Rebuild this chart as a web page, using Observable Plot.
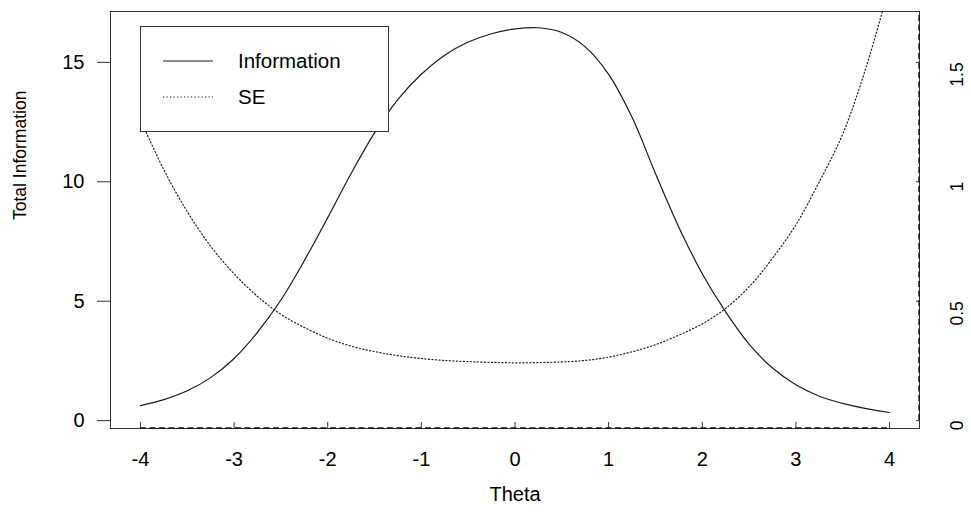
<!DOCTYPE html>
<html><head><meta charset="utf-8">
<script src="https://cdn.jsdelivr.net/npm/d3@7"></script>
<script src="https://cdn.jsdelivr.net/npm/@observablehq/plot@0.6"></script>
<style>html,body{margin:0;padding:0;background:#fff;}</style>
</head><body><div id="chart"></div>
<script>
// ---- data ----
const theta = [-4,-3.75,-3.5,-3.25,-3,-2.75,-2.5,-2.25,-2,-1.75,-1.5,-1.25,-1,-0.75,-0.5,-0.25,0,0.25,0.5,0.75,1,1.25,1.5,1.75,2,2.25,2.5,2.75,3,3.25,3.5,3.75,4];
const information = [0.63,0.88,1.25,1.8,2.6,3.7,5.05,6.7,8.5,10.35,12.05,13.45,14.5,15.3,15.85,16.2,16.4,16.45,16.25,15.65,14.5,12.7,10.35,8.1,6.15,4.55,3.2,2.2,1.5,1.02,0.72,0.5,0.34];
const se = [1.26,1.05,0.875,0.73,0.615,0.52,0.445,0.39,0.345,0.312,0.289,0.272,0.26,0.252,0.247,0.244,0.242,0.243,0.246,0.252,0.266,0.288,0.318,0.358,0.405,0.47,0.56,0.68,0.82,1.0,1.2,1.48,1.82];
const xTicks = [-4,-3,-2,-1,0,1,2,3,4];
const infoTicks = [0,5,10,15];
const seTicks = [0,0.5,1,1.5];
const seRatio = 10; // right axis = left axis / 10
const legendLabels = ["Information","SE"];
const xLabel = "Theta";
const yLabel = "Total Information";

const infoData = theta.map((t,i)=>({theta:t, value:information[i]}));
const seData = theta.map((t,i)=>({theta:t, value:se[i]}));

const W=971, H=529, mL=110, mR=52, mT=11, mB=101;
const FONT = "'Liberation Sans', Arial, Helvetica, sans-serif";

const plot = Plot.plot({
  width: W, height: H,
  marginLeft: mL, marginRight: mR, marginTop: mT, marginBottom: mB,
  style: {fontFamily: FONT, fontSize: "20px", color: "#000", background: "#fff", overflow: "visible"},
  x: {domain: [-4.32, 4.32]},
  y: {domain: [-0.33, 17.13]},
  marks: [
    Plot.frame({stroke: "#333", strokeWidth: 1}),
    Plot.line(infoData, {x: "theta", y: "value", curve: "catmull-rom", stroke: "#1a1a1a", strokeWidth: 1.2}),
    Plot.line(seData, {x: "theta", y: d => d.value * seRatio, curve: "catmull-rom", stroke: "#222", strokeWidth: 1.2, strokeDasharray: "1.2,2.3", clip: true}),
    Plot.axisX({ticks: xTicks, tickSize: -6, tickPadding: 29, label: null, tickFormat: d => String(d), stroke: "#333"}),
    Plot.axisY({anchor: "left", ticks: infoTicks, tickSize: 13, tickPadding: 13, label: null, tickFormat: d => String(d), stroke: "#333"}),
    Plot.axisY({anchor: "right", ticks: seTicks.map(v => v * seRatio), tickSize: -4, tickFormat: () => "", label: null, stroke: "#333"}),
    Plot.text(seTicks, {y: d => d * seRatio, frameAnchor: "right", dx: 38, rotate: -90, text: d => String(d), fontSize: 17.5, fill: "#000"}),
    Plot.text([yLabel], {frameAnchor: "left", dx: -90, rotate: -90, text: d => d, fontSize: 17.5, fill: "#000"}),
    Plot.text([xLabel], {frameAnchor: "bottom", dy: 72, text: d => d, fill: "#000"})
  ]
});
document.getElementById("chart").appendChild(plot);

// dashed axis lines over the box (bottom and right), placed with the plot's scales
const sx = plot.scale("x"), sy = plot.scale("y");
const svg = d3.select(plot);
const over = svg.append("g").attr("stroke", "#111").attr("stroke-width", 1.4).attr("stroke-dasharray", "6,3.5");
over.append("line")
  .attr("x1", sx.apply(xTicks[0])).attr("x2", sx.apply(xTicks[xTicks.length-1]))
  .attr("y1", H - mB).attr("y2", H - mB);
over.append("line")
  .attr("x1", W - mR).attr("x2", W - mR)
  .attr("y1", sy.apply(0)).attr("y2", mT);

// legend (R-style box, top-left)
const lg = svg.append("g").attr("font-family", FONT).attr("font-size", "20.5px").attr("text-anchor", "start");
lg.append("rect").attr("x", 140.5).attr("y", 26.5).attr("width", 248).attr("height", 105)
  .attr("fill", "#fff").attr("stroke", "#333").attr("stroke-width", 1);
const rows = [
  {label: legendLabels[0], dash: null, y: 61},
  {label: legendLabels[1], dash: "1.2,2.3", y: 97}
];
rows.forEach(r => {
  lg.append("line").attr("x1", 163).attr("x2", 213).attr("y1", r.y).attr("y2", r.y)
    .attr("stroke", "#1a1a1a").attr("stroke-width", 1.2)
    .attr("stroke-dasharray", r.dash);
  lg.append("text").attr("x", 238).attr("y", r.y).attr("dy", "0.35em")
    .attr("text-anchor", "start").attr("fill", "#000").text(r.label);
});
</script>
</body></html>
